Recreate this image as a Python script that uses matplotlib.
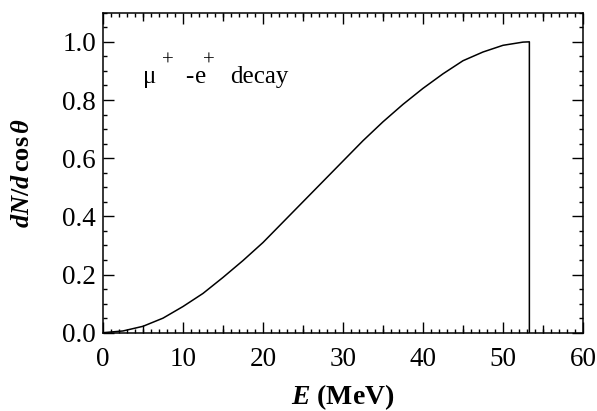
import matplotlib
matplotlib.use("Agg")
import matplotlib.pyplot as plt
from matplotlib.ticker import MultipleLocator, FixedLocator, NullFormatter

# Data (mu+ -> e+ decay spectrum)
energy = [0, 2.5, 5, 7.5, 10, 12.5, 15, 17.5, 20, 22.5, 25, 27.5, 30,
          32.5, 35, 37.5, 40, 42.5, 45, 47.5, 50, 52.5, 53.3, 53.3]
dn_dcos = [0.0, 0.006, 0.022, 0.05, 0.09, 0.135, 0.19, 0.248, 0.31, 0.38,
           0.45, 0.52, 0.59, 0.66, 0.725, 0.785, 0.84, 0.89, 0.935, 0.965,
           0.988, 0.999, 1.0, 0.0]

x_major = [0, 10, 20, 30, 40, 50, 60]
x_medium = [5, 15, 25, 35, 45, 55]
y_major = [0.0, 0.2, 0.4, 0.6, 0.8, 1.0]

plt.rcParams['font.family'] = ['Liberation Serif', 'DejaVu Serif']
plt.rcParams['mathtext.fontset'] = 'custom'
plt.rcParams['mathtext.rm'] = 'Liberation Serif:bold'
plt.rcParams['mathtext.it'] = 'Liberation Serif:italic:bold'
plt.rcParams['mathtext.bf'] = 'Liberation Serif:bold'

fig = plt.figure(figsize=(5.97, 4.11), dpi=100)
ax = fig.add_axes([0.1725, 0.1905, 0.804, 0.7785])

ax.plot(energy, dn_dcos, color='black', lw=1.1)

ax.set_xlim(0, 60)
ax.set_ylim(0, 1.1)
ax.xaxis.set_major_locator(FixedLocator(x_major))
ax.xaxis.set_minor_locator(MultipleLocator(1))
ax.yaxis.set_major_locator(FixedLocator(y_major))
ax.yaxis.set_minor_locator(MultipleLocator(0.05))
ax.set_xticklabels([str(v) for v in x_major])
ax.set_yticklabels([f"{v:.1f}" for v in y_major])

ax.tick_params(which='both', direction='in', top=True, right=True,
               width=1.0, colors='black')
ax.tick_params(which='major', length=8, labelsize=19.5)
ax.tick_params(which='minor', length=3)
ax.tick_params(axis='x', which='major', pad=10)
ax.tick_params(axis='y', which='major', pad=5)
for s in ax.spines.values():
    s.set_linewidth(1.1)

# medium ticks at the 5s on bottom and top
for loc in ('bottom', 'top'):
    sec = ax.secondary_xaxis(loc)
    sec.xaxis.set_major_locator(FixedLocator(x_medium))
    sec.xaxis.set_major_formatter(NullFormatter())
    sec.tick_params(which='major', direction='in', length=5.5, width=1.0)
    sec.xaxis.set_minor_locator(FixedLocator([]))
    sec.spines[loc].set_visible(False)

ax.set_xlabel(r'$E$ (MeV)', fontsize=20, fontweight='bold', labelpad=8)
ax.set_ylabel(r'$dN/d\,\mathrm{cos}\,\theta$', fontsize=19, labelpad=20)

# legend-like annotation: pieces placed with point offsets from an anchor
anchor = (5.0, 0.86)
pieces = [('μ', 0, 0, 18), ('+', 13.5, 12, 15), ('-', 30, 0, 18),
          ('e', 37.5, 0, 18), ('+', 43, 12, 15), ('decay', 63, 0, 18)]
for txt, dx, dy, fs in pieces:
    ax.annotate(txt, xy=anchor, xytext=(dx, dy), textcoords='offset points',
                fontsize=fs, va='baseline', ha='left')

fig.savefig('out.png', dpi=100)
